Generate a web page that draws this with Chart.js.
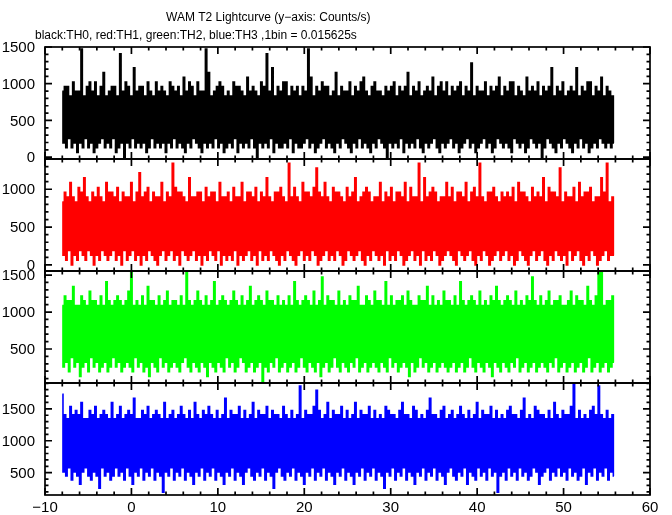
<!DOCTYPE html>
<html lang="en">
<head>
<meta charset="UTF-8">
<title>WAM T2 Lightcurve</title>
<script src="https://cdn.jsdelivr.net/npm/chart.js"></script>
<style>
  body { margin: 0; background: #fff; }
  #wrap { width: 672px; height: 515px; }
</style>
</head>
<body>
<div id="wrap"><canvas id="lc" width="672" height="515"></canvas></div>
<script>
  const titleText = 'WAM T2 Lightcurve (y\u2212axis: Counts/s)';
  const subText = 'black:TH0, red:TH1, green:TH2, blue:TH3 ,1bin = 0.015625s';
  const binWidth = 0.015625;   // s per bin, counts/bin -> counts/s
  const tStart = -8;
  const tSpan = 64;

  const th0 = [
    14,3, 15,2, 15,4, 13,2, 16,3, 14,1, 14,3, 23,2, 13,4, 15,2, 16,3, 14,1, 16,2, 13,3, 15,4, 18,2, 13,3, 14,2, 15,4, 15,1,
    13,2, 22,3, 14,0, 16,3, 15,2, 13,4, 19,2, 14,3, 15,2, 15,3, 13,1, 16,2, 14,4, 13,2, 16,3, 14,2, 15,3, 14,1, 13,3, 16,2,
    15,4, 14,2, 15,3, 13,2, 17,1, 14,3, 16,2, 15,4, 13,3, 16,2, 14,1, 14,3, 23,2, 18,3, 13,2, 14,4, 15,2, 16,3, 15,1, 13,2,
    14,3, 13,2, 16,4, 15,1, 15,3, 14,2, 13,3, 17,2, 14,4, 15,2, 14,0, 13,3, 16,2, 15,3, 22,2, 14,4, 19,1, 13,3, 15,2, 14,2,
    16,3, 16,2, 13,4, 15,1, 14,3, 15,2, 13,2, 15,3, 14,4, 23,2, 17,3, 13,1, 15,2, 14,3, 16,4, 15,2, 15,3, 13,2, 14,1, 18,3,
    13,2, 15,4, 14,3, 14,2, 16,1, 13,3, 15,2, 14,4, 16,2, 17,3, 14,2, 13,1, 15,3, 16,2, 14,4, 14,3, 13,2, 15,0, 14,3, 15,2,
    16,3, 13,2, 15,4, 14,1, 15,3, 18,2, 13,3, 15,2, 14,4, 16,2, 13,1, 14,3, 15,2, 14,3, 17,4, 13,2, 15,1, 16,3, 14,2, 16,3,
    13,4, 15,2, 14,3, 15,1, 16,2, 13,3, 15,4, 14,2, 20,3, 13,1, 15,2, 14,3, 14,4, 16,2, 13,3, 15,1, 14,2, 15,4, 17,3, 13,2,
    15,3, 14,2, 16,1, 16,4, 13,3, 15,2, 14,3, 13,1, 17,2, 14,4, 15,3, 14,2, 16,3, 13,0, 15,2, 14,4, 15,3, 19,2, 13,1, 15,3,
    14,2, 16,4, 13,3, 14,2, 15,1, 14,3, 19,2, 13,4, 15,2, 14,3, 16,1, 16,2, 13,3, 15,2, 14,4, 17,3, 13,2, 15,3, 14,2, 13,3
  ];
  const th1 = [
    13,2, 15,1, 14,3, 17,0, 14,2, 13,1, 16,3, 15,2, 18,1, 14,3, 13,2, 15,0, 14,2, 16,1, 14,3, 13,2, 17,1, 15,2, 15,3, 14,1,
    16,2, 13,0, 15,3, 14,1, 14,2, 17,3, 13,1, 15,2, 19,0, 14,2, 15,1, 16,3, 13,2, 15,1, 14,0, 14,2, 17,3, 13,1, 15,2, 14,3,
    21,1, 16,2, 15,0, 15,3, 14,2, 13,1, 18,2, 14,3, 14,1, 15,2, 15,0, 13,2, 16,1, 14,3, 15,2, 15,1, 13,3, 17,0, 14,2, 14,1,
    15,2, 13,1, 16,3, 14,0, 14,2, 17,1, 13,2, 15,3, 15,1, 14,2, 16,0, 13,3, 15,1, 14,2, 18,1, 14,3, 13,2, 15,1, 15,0, 16,2,
    14,1, 13,3, 21,2, 14,1, 16,0, 14,2, 13,3, 17,1, 15,2, 15,1, 14,3, 16,2, 20,0, 15,1, 14,2, 17,3, 14,1, 13,2, 16,1, 15,3,
    15,2, 14,0, 13,1, 16,3, 14,2, 15,1, 18,2, 13,3, 14,1, 15,0, 16,2, 15,1, 13,3, 14,2, 14,1, 17,2, 13,0, 15,3, 14,1, 16,2,
    13,1, 15,3, 15,2, 14,0, 17,1, 13,2, 16,3, 14,1, 14,2, 21,0, 13,3, 18,1, 14,2, 15,1, 16,3, 15,2, 13,0, 14,1, 14,2, 17,3,
    14,2, 16,1, 13,0, 15,3, 15,2, 14,1, 17,2, 13,3, 15,1, 16,0, 14,2, 21,1, 14,3, 13,2, 15,0, 15,1, 16,2, 14,3, 13,1, 15,2,
    14,3, 15,1, 14,2, 16,0, 13,1, 17,3, 15,2, 15,1, 14,0, 13,2, 16,3, 14,1, 15,2, 14,3, 18,1, 13,0, 16,2, 15,1, 15,3, 14,2,
    20,1, 13,2, 15,0, 14,3, 14,1, 16,2, 13,3, 17,1, 14,0, 15,2, 15,1, 16,3, 13,2, 14,0, 14,1, 18,2, 15,3, 21,1, 13,2, 14,2
  ];
  const th2 = [
    17,4, 19,5, 18,3, 18,6, 21,4, 17,5, 17,2, 19,4, 18,5, 17,3, 20,6, 18,4, 18,5, 17,3, 19,4, 17,5, 22,3, 18,4, 17,6, 18,4,
    19,5, 18,3, 17,4, 18,5, 20,4, 25,3, 17,6, 18,4, 17,5, 19,3, 17,4, 21,2, 18,5, 18,4, 17,3, 19,6, 17,4, 18,5, 20,3, 17,4,
    18,5, 18,4, 17,3, 19,5, 17,6, 25,4, 18,3, 17,5, 18,4, 20,3, 18,5, 17,4, 19,2, 17,5, 18,4, 22,3, 17,5, 18,4, 19,3, 18,6,
    17,4, 18,5, 20,3, 18,4, 17,6, 19,5, 17,3, 18,4, 21,5, 17,3, 18,4, 19,5, 18,1, 17,4, 20,3, 18,5, 18,4, 17,6, 19,3, 17,4,
    18,5, 17,3, 19,4, 17,5, 22,3, 18,4, 17,6, 18,4, 19,3, 18,5, 17,4, 20,3, 17,5, 18,2, 23,4, 17,5, 19,3, 18,4, 18,6, 17,4,
    20,3, 17,5, 18,4, 17,3, 19,5, 18,4, 18,6, 21,3, 17,4, 17,5, 19,3, 18,4, 17,5, 20,4, 18,3, 18,5, 17,4, 22,3, 17,6, 19,4,
    17,5, 18,3, 18,4, 19,5, 17,4, 20,2, 18,5, 17,3, 17,4, 19,6, 18,4, 18,5, 21,3, 17,4, 19,5, 17,3, 18,4, 17,5, 20,4, 18,3,
    18,4, 17,5, 19,3, 17,4, 22,5, 18,3, 17,4, 18,6, 19,4, 18,3, 17,5, 20,4, 17,3, 18,5, 17,4, 19,2, 18,5, 21,4, 18,3, 17,5,
    18,4, 19,3, 18,5, 17,4, 20,6, 17,3, 18,4, 17,5, 19,3, 18,4, 23,5, 18,3, 17,4, 19,5, 17,4, 18,3, 20,5, 17,4, 18,6, 18,3,
    19,4, 17,5, 17,3, 18,4, 20,5, 17,3, 19,4, 18,5, 18,3, 17,4, 21,6, 18,3, 17,4, 19,5, 25,3, 24,4, 17,5, 18,3, 18,4, 19,5
  ];
  const th3 = [
    27,8, 22,7, 21,9, 24,6, 22,8, 23,7, 22,5, 25,8, 21,9, 21,7, 23,6, 22,8, 24,7, 21,4, 22,9, 23,7, 22,8, 21,6, 25,7, 21,9,
    22,7, 24,8, 21,6, 22,9, 23,7, 22,5, 26,8, 21,7, 21,9, 23,6, 22,8, 24,7, 21,9, 22,6, 23,8, 22,7, 21,3, 25,8, 21,7, 22,9,
    23,6, 21,8, 22,7, 24,9, 22,6, 21,8, 23,7, 21,5, 25,8, 22,7, 21,9, 23,6, 22,8, 24,7, 22,9, 21,6, 23,8, 21,7, 22,5, 26,8,
    21,7, 23,9, 22,6, 22,8, 24,7, 21,5, 23,8, 21,9, 22,7, 25,6, 21,8, 23,7, 22,9, 22,6, 24,8, 21,7, 23,4, 22,8, 22,9, 21,7,
    24,6, 22,8, 21,7, 23,9, 21,6, 22,8, 29,7, 21,5, 23,8, 22,7, 22,9, 24,6, 28,8, 23,7, 21,9, 22,6, 25,8, 21,7, 23,5, 22,8,
    22,7, 24,9, 21,6, 23,8, 21,7, 22,5, 25,8, 21,7, 23,9, 22,6, 22,8, 24,7, 21,9, 23,6, 21,8, 22,7, 21,4, 24,8, 23,7, 22,9,
    22,6, 21,8, 23,7, 25,9, 22,6, 22,8, 21,7, 24,5, 23,8, 21,7, 22,9, 21,6, 23,8, 26,7, 22,9, 22,6, 21,8, 23,7, 24,5, 21,8,
    22,9, 23,7, 21,6, 22,8, 24,7, 22,9, 21,5, 23,8, 21,7, 22,6, 25,9, 21,7, 23,8, 22,6, 22,9, 24,7, 21,8, 23,3, 21,7, 22,8,
    21,6, 23,9, 24,7, 22,8, 22,6, 21,9, 23,7, 26,8, 21,6, 22,7, 21,9, 24,8, 23,5, 22,7, 22,8, 21,9, 23,6, 21,8, 25,7, 22,9,
    21,7, 23,8, 22,6, 22,9, 24,7, 30,8, 21,6, 23,7, 21,9, 22,5, 21,8, 23,7, 24,9, 22,6, 29,8, 22,7, 21,9, 23,6, 21,8, 22,7
  ];

  const xTickLabels = [-10, 0, 10, 20, 30, 40, 50, 60];
  const yTickLabels = [[0, 500, 1000, 1500], [0, 500, 1000], [500, 1000, 1500], [500, 1000, 1500]];

  const series = [th0, th1, th2, th3];
  const colors = ['#000000', '#ff0000', '#00ff00', '#0000ff'];
  const yRanges = [[-25, 1500], [-80, 1400], [40, 1555], [150, 1905]];

  function toPoints(counts) {
    const dt = tSpan / counts.length;
    return counts.map((c, i) => ({ x: tStart + i * dt, y: c / binWidth }));
  }

  const tickFont = '15px "Liberation Sans", Arial, sans-serif';
  const titleFont = '12px "Liberation Sans", Arial, sans-serif';

  // frame, inward ticks and labels for every panel, drawn by hand
  const panels = {
    id: 'panels',
    beforeDatasetDraw(chart, args) {
      const ys = chart.scales['y' + args.index];
      const a = chart.chartArea;
      const ctx = chart.ctx;
      ctx.save();
      ctx.beginPath();
      ctx.rect(a.left, ys.top, a.right - a.left, ys.bottom - ys.top);
      ctx.clip();
    },
    afterDatasetDraw(chart) {
      chart.ctx.restore();
    },
    afterDraw(chart) {
      const ctx = chart.ctx, a = chart.chartArea, xs = chart.scales.x;
      ctx.save();
      ctx.strokeStyle = '#000';
      ctx.fillStyle = '#000';
      ctx.lineWidth = 1.7;
      for (let p = 0; p < 4; p++) {
        const ys = chart.scales['y' + p];
        ctx.strokeRect(a.left, ys.top, a.right - a.left, ys.bottom - ys.top);
        ctx.beginPath();
        for (let v = Math.ceil(ys.min / 100) * 100; v <= ys.max; v += 100) {
          const py = ys.getPixelForValue(v);
          const len = v % 500 === 0 ? 7 : 3.5;
          ctx.moveTo(a.left, py); ctx.lineTo(a.left + len, py);
          ctx.moveTo(a.right, py); ctx.lineTo(a.right - len, py);
        }
        for (let t = -10; t <= 60; t += 2) {
          const px = xs.getPixelForValue(t);
          const len = t % 10 === 0 ? 7 : 3.5;
          ctx.moveTo(px, ys.top); ctx.lineTo(px, ys.top + len);
          ctx.moveTo(px, ys.bottom); ctx.lineTo(px, ys.bottom - len);
        }
        ctx.stroke();
        ctx.font = tickFont;
        ctx.textAlign = 'right';
        ctx.textBaseline = 'middle';
        yTickLabels[p].forEach(v => ctx.fillText(String(v), 35, ys.getPixelForValue(v) + 1));
      }
      ctx.textAlign = 'center';
      xTickLabels.forEach(t => {
        const s = t < 0 ? '\u2212' + Math.abs(t) : String(t);
        ctx.fillText(s, xs.getPixelForValue(t), 508);
      });
      ctx.font = titleFont;
      ctx.textAlign = 'left';
      ctx.textBaseline = 'alphabetic';
      ctx.fillText(titleText, 166, 21);
      ctx.fillText(subText, 35, 39);
      ctx.restore();
    }
  };

  const scales = {
    x: { type: 'linear', min: -10, max: 60, display: false }
  };
  yRanges.forEach((r, p) => {
    scales['y' + p] = {
      type: 'linear', position: 'left', min: r[0], max: r[1],
      stack: 'lc', stackWeight: 1, weight: 4 - p, offset: false, display: false
    };
  });

  new Chart(document.getElementById('lc'), {
    type: 'line',
    data: {
      datasets: series.map((s, p) => ({
        label: 'TH' + p,
        data: toPoints(s),
        yAxisID: 'y' + p,
        xAxisID: 'x',
        borderColor: colors[p],
        borderWidth: 1.6,
        borderJoinStyle: 'miter',
        stepped: 'middle',
        pointRadius: 0,
        fill: false
      }))
    },
    options: {
      responsive: false,
      animation: false,
      devicePixelRatio: 1,
      layout: { padding: { left: 45, right: 22, top: 47, bottom: 20 } },
      plugins: { legend: { display: false }, tooltip: { enabled: false }, title: { display: false } },
      scales
    },
    plugins: [panels]
  });
</script>
</body>
</html>
